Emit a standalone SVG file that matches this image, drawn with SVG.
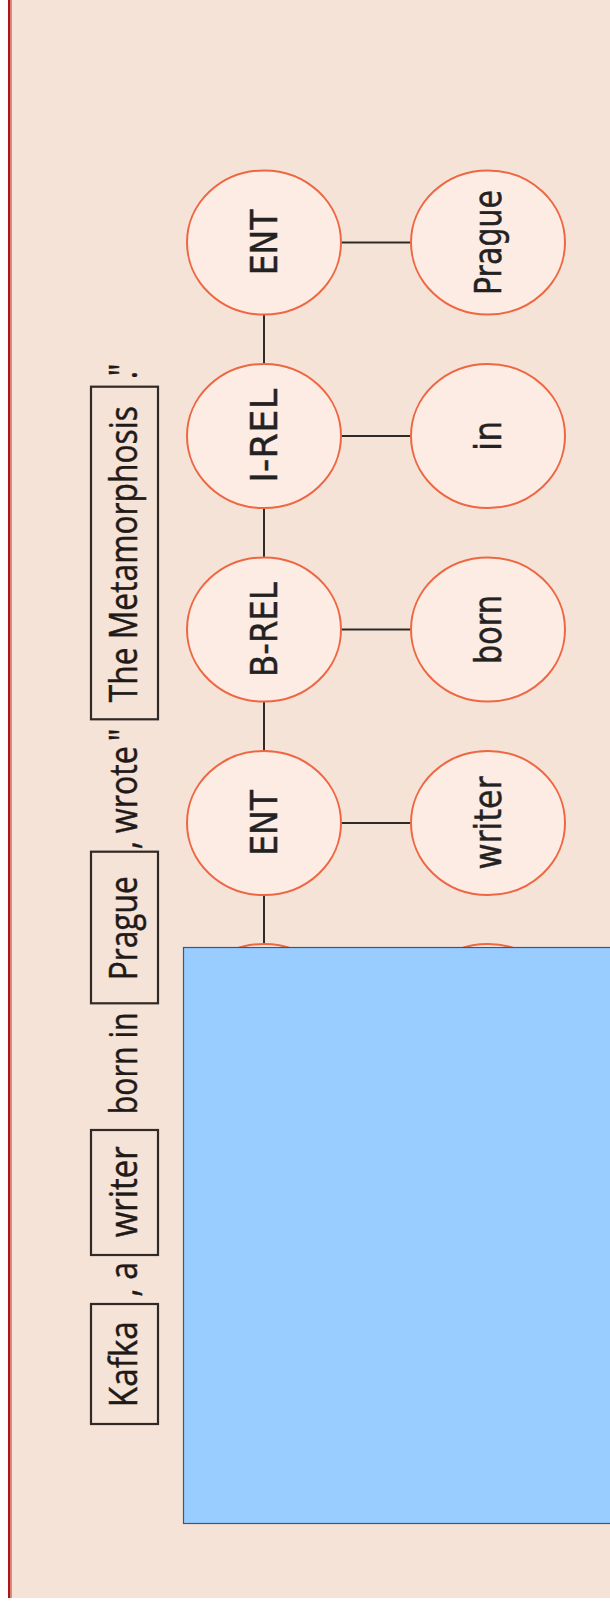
<svg xmlns="http://www.w3.org/2000/svg" width="610" height="1607" viewBox="0 0 610 1607">
  <style>
    .bg { fill: #f5e3d8; }
    .edge { stroke: #2e2a28; stroke-width: 2; fill: none; }
    .node ellipse { fill: #fdece3; stroke: #ee6742; stroke-width: 2; }
    .node text { font-family: "DejaVu Sans", "Liberation Sans", sans-serif; font-size: 33px; fill: #222; stroke: #222; stroke-width: 0.4; text-anchor: middle; }
    .tok rect { fill: none; stroke: #302926; stroke-width: 2.2; }
    .sent text { font-family: "Open Sans", "Noto Sans", "Liberation Sans", sans-serif; font-size: 32px; fill: #1f1a18; stroke: #1f1a18; stroke-width: 0.4; text-anchor: middle; }
    .cover { fill: #99ccff; stroke: #3e5874; stroke-width: 1.2; }
  </style>

  <!-- page background with left margin rule -->
  <rect class="bg" x="8" y="0" width="602" height="1598"/>
  <rect x="8" y="0" width="2.5" height="1598" fill="#b01515"/>
  <rect x="10.5" y="0" width="1.5" height="1598" fill="#e2897e"/>

  <!-- tokenised sentence, read bottom to top -->
  <g id="sentence" class="sent">
    <g id="tok-kafka" class="tok">
      <rect x="91" y="1304" width="67" height="120"/>
      <text transform="translate(136.5,1364.2) rotate(-90) scale(1,1.17)" textLength="86" lengthAdjust="spacingAndGlyphs">Kafka</text>
    </g>
    <text transform="translate(136.5,1292.5) rotate(-90) scale(1,1.17)">,</text>
    <text transform="translate(136.5,1270.8) rotate(-90) scale(1,1.17)">a</text>
    <g id="tok-writer" class="tok">
      <rect x="91" y="1130" width="67" height="125"/>
      <text transform="translate(136.5,1191.7) rotate(-90) scale(1,1.17)" textLength="91" lengthAdjust="spacingAndGlyphs">writer</text>
    </g>
    <text transform="translate(136.5,1063.3) rotate(-90) scale(1,1.17)" textLength="102" lengthAdjust="spacingAndGlyphs">born in</text>
    <g id="tok-prague" class="tok">
      <rect x="91" y="851.7" width="67" height="151.6"/>
      <text transform="translate(136.5,928.3) rotate(-90) scale(1,1.17)" textLength="104" lengthAdjust="spacingAndGlyphs">Prague</text>
    </g>
    <text transform="translate(136.5,845) rotate(-90) scale(1,1.17)">,</text>
    <text transform="translate(136.5,789.7) rotate(-90) scale(1,1.17)" textLength="87" lengthAdjust="spacingAndGlyphs">wrote</text>
    <text transform="translate(136.5,735) rotate(-90) scale(1,1.17)">"</text>
    <g id="tok-metamorphosis" class="tok">
      <rect x="91" y="386.7" width="67" height="332.6"/>
      <text transform="translate(136.5,554.2) rotate(-90) scale(1,1.17)" textLength="296" lengthAdjust="spacingAndGlyphs">The Metamorphosis</text>
    </g>
    <text transform="translate(136.5,370) rotate(-90) scale(1,1.17)">"</text>
    <text transform="translate(136.5,375) rotate(-90) scale(1,1.17)">.</text>
  </g>

  <!-- connectors -->
  <g id="connectors">
    <line class="edge" x1="264" y1="315" x2="264" y2="363.5"/>
    <line class="edge" x1="264" y1="508.5" x2="264" y2="557"/>
    <line class="edge" x1="264" y1="702" x2="264" y2="750.5"/>
    <line class="edge" x1="264" y1="895.5" x2="264" y2="943.5"/>
    <line class="edge" x1="341.5" y1="242.5" x2="410" y2="242.5"/>
    <line class="edge" x1="341.5" y1="436" x2="410" y2="436"/>
    <line class="edge" x1="341.5" y1="629.5" x2="410" y2="629.5"/>
    <line class="edge" x1="341.5" y1="823" x2="410" y2="823"/>
    <line class="edge" x1="341.5" y1="1016" x2="410" y2="1016"/>
  </g>

  <!-- tag column -->
  <g id="tag-ent-1" class="node">
    <ellipse cx="264" cy="242.5" rx="77" ry="72"/>
    <text transform="translate(264,242.5) rotate(-90) scale(1,1.11)" y="12">ENT</text>
  </g>
  <g id="tag-irel" class="node">
    <ellipse cx="264" cy="436" rx="77" ry="72"/>
    <text transform="translate(264,436) rotate(-90) scale(1,1.11)" y="12" textLength="94" lengthAdjust="spacingAndGlyphs">I-REL</text>
  </g>
  <g id="tag-brel" class="node">
    <ellipse cx="264" cy="629.5" rx="77" ry="72"/>
    <text transform="translate(264,629.5) rotate(-90) scale(1,1.11)" y="12" textLength="95" lengthAdjust="spacingAndGlyphs">B-REL</text>
  </g>
  <g id="tag-ent-2" class="node">
    <ellipse cx="264" cy="823" rx="77" ry="72"/>
    <text transform="translate(264,823) rotate(-90) scale(1,1.11)" y="12">ENT</text>
  </g>
  <g id="tag-5" class="node">
    <ellipse cx="264" cy="1016" rx="77" ry="72"/>
  </g>

  <!-- word column -->
  <g id="word-prague" class="node">
    <ellipse cx="488" cy="242.5" rx="77" ry="72"/>
    <text transform="translate(488,242.5) rotate(-90) scale(1,1.11)" y="12" textLength="105" lengthAdjust="spacingAndGlyphs">Prague</text>
  </g>
  <g id="word-in" class="node">
    <ellipse cx="488" cy="436" rx="77" ry="72"/>
    <text transform="translate(488,436) rotate(-90) scale(1,1.11)" y="12">in</text>
  </g>
  <g id="word-born" class="node">
    <ellipse cx="488" cy="629.5" rx="77" ry="72"/>
    <text transform="translate(488,629.5) rotate(-90) scale(1,1.11)" y="12" textLength="69" lengthAdjust="spacingAndGlyphs">born</text>
  </g>
  <g id="word-writer" class="node">
    <ellipse cx="488" cy="823" rx="77" ry="72"/>
    <text transform="translate(488,823) rotate(-90) scale(1,1.11)" y="12" textLength="93" lengthAdjust="spacingAndGlyphs">writer</text>
  </g>
  <g id="word-5" class="node">
    <ellipse cx="488" cy="1016" rx="77" ry="72"/>
  </g>

  <!-- solid panel over the lower part -->
  <rect id="cover" class="cover" x="183.5" y="947.5" width="430" height="576"/>
</svg>
